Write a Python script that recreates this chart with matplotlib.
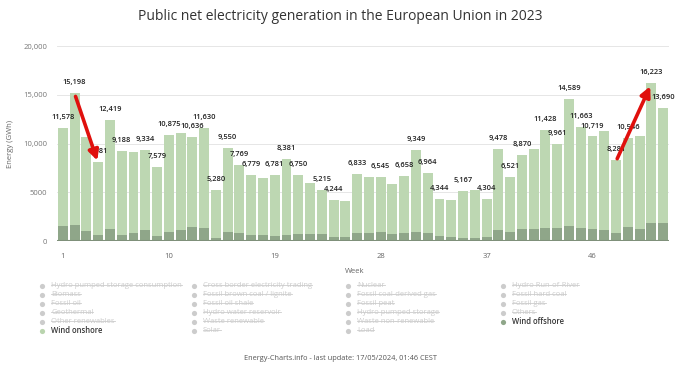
import matplotlib
matplotlib.use("Agg")
from matplotlib import pyplot as plt
import numpy as np

plt.rcParams['font.family'] = ['Open Sans', 'DejaVu Sans']

weeks = list(range(1, 53))
# weekly totals (GWh), wind onshore + offshore
total = [11578, 15198, 10620, 8081, 12419, 9188, 9150, 9334, 7579, 10875,
         11120, 10636, 11630, 5280, 9550, 7769, 6779, 6420, 6781, 8381,
         6750, 5930, 5215, 4244, 4090, 6833, 6590, 6545, 5860, 6658,
         9349, 6964, 4344, 4200, 5167, 5200, 4304, 9478, 6521, 8870,
         9430, 11428, 9961, 14589, 11663, 10719, 11320, 8281, 10546, 10730,
         16223, 13690]
offshore = [1540, 1680, 1000, 650, 1230, 650, 790, 1100, 545, 925,
            1130, 1440, 1340, 280, 960, 790, 650, 650, 510, 620,
            690, 760, 690, 380, 380, 830, 830, 930, 720, 830,
            930, 790, 550, 450, 280, 280, 380, 1130, 930, 1200,
            1200, 1370, 1340, 1540, 1300, 1230, 1170, 830, 1440, 1230,
            1820, 1890]
onshore = [t - o for t, o in zip(total, offshore)]
labeled_weeks = [1, 2, 4, 5, 6, 8, 9, 10, 12, 13, 14, 15, 16, 17, 19, 20, 21, 23, 24,
                 26, 28, 30, 31, 32, 33, 35, 37, 38, 39, 40, 42, 43, 44, 45, 46, 48,
                 49, 51, 52]
arrows = [(2, 4), (48, 51)]

legend_rows = [
    ["Hydro pumped storage consumption", "Cross border electricity trading", "Nuclear", "Hydro Run-of-River"],
    ["Biomass", "Fossil brown coal / lignite", "Fossil coal-derived gas", "Fossil hard coal"],
    ["Fossil oil", "Fossil oil shale", "Fossil peat", "Fossil gas"],
    ["Geothermal", "Hydro water reservoir", "Hydro pumped storage", "Others"],
    ["Other renewables", "Waste renewable", "Waste non-renewable", "Wind offshore"],
    ["Wind onshore", "Solar", "Load"],
]
active = {"Wind onshore": "#b9d4ae", "Wind offshore": "#8fa689"}

fig = plt.figure(figsize=(6.8, 3.7), dpi=100)
ax = fig.add_axes([57/680, 1 - 241/370, 612/680, 195/370])

ax.bar(weeks, offshore, width=0.84, color="#8fa689", zorder=2)
ax.bar(weeks, onshore, bottom=offshore, width=0.84, color="#bdd7b2", zorder=2)

for w in labeled_weeks:
    ax.annotate(f"{total[w-1]:,}", (w, total[w-1]), xytext=(0, 5), textcoords="offset points",
                ha="center", va="bottom", fontsize=5.4, fontweight="semibold", color="#222222", zorder=4)

for a, b in arrows:
    ax.annotate("", xy=(b, total[b-1] - 100), xytext=(a, total[a-1] - 100),
                arrowprops=dict(arrowstyle="-|>,head_length=0.6,head_width=0.3", color="#e0100d", lw=2.6),
                zorder=5)

ax.set_xlim(0.5, 52.5)
ax.set_ylim(0, 20000)
ax.set_yticks([0, 5000, 10000, 15000, 20000])
ax.set_yticklabels(["0", "5000", "10,000", "15,000", "20,000"])
ax.set_xticks([1, 10, 19, 28, 37, 46])
ax.set_xticks(weeks, minor=True)
ax.tick_params(axis="y", length=0, labelsize=5.5, labelcolor="#777777", pad=7)
ax.tick_params(axis="x", which="major", length=3, labelsize=5.5, labelcolor="#666666", color="#ffffff", pad=6)
ax.tick_params(axis="x", which="minor", length=0)
ax.grid(axis="y", color="#e6e6e6", lw=0.7, zorder=0)
for s in ax.spines.values():
    s.set_visible(False)
ax.axhline(0, color="#7f907a", lw=1.5, zorder=3)
ax.set_ylabel("Energy (GWh)", fontsize=5.5, color="#666666")
ax.yaxis.set_label_coords(-0.07, 0.5)
ax.set_xlabel("Week", fontsize=5.5, color="#666666")
ax.xaxis.set_label_coords(0.487, -0.14)

fig.text(0.5, 1 - 16/370, "Public net electricity generation in the European Union in 2023",
         ha="center", va="center", fontsize=10, color="#333333")
fig.text(0.5, 1 - 358/370, "Energy-Charts.info - last update: 17/05/2024, 01:46 CEST",
         ha="center", va="center", fontsize=5.3, color="#555555")

# legend in pixel coordinates
lax = fig.add_axes([0, 0, 1, 1])
lax.set_xlim(0, 680)
lax.set_ylim(370, 0)
lax.axis("off")
col_x = [42, 194, 348, 503]
hidden = []
for r, row in enumerate(legend_rows):
    y = 285.7 + r * 9
    for c, name in enumerate(row):
        x = col_x[c]
        dot = active.get(name, "#cccccc")
        lax.scatter([x], [y], s=14, color=dot, lw=0)
        if name in active:
            lax.text(x + 9, y, name, fontsize=5.5, color="#333333", va="center", fontweight="semibold")
        else:
            hidden.append(lax.text(x + 9, y, name, fontsize=5.5, color="#cccccc", va="center"))

fig.canvas.draw()
inv = lax.transData.inverted()
for t in hidden:
    bb = t.get_window_extent()
    (x0, y0), (x1, y1) = inv.transform([(bb.x0, bb.y0), (bb.x1, bb.y1)])
    ym = (y0 + y1) / 2 - 0.3
    lax.plot([x0, x1], [ym, ym], color="#cccccc", lw=0.6)

fig.savefig("out.png", dpi=100)
